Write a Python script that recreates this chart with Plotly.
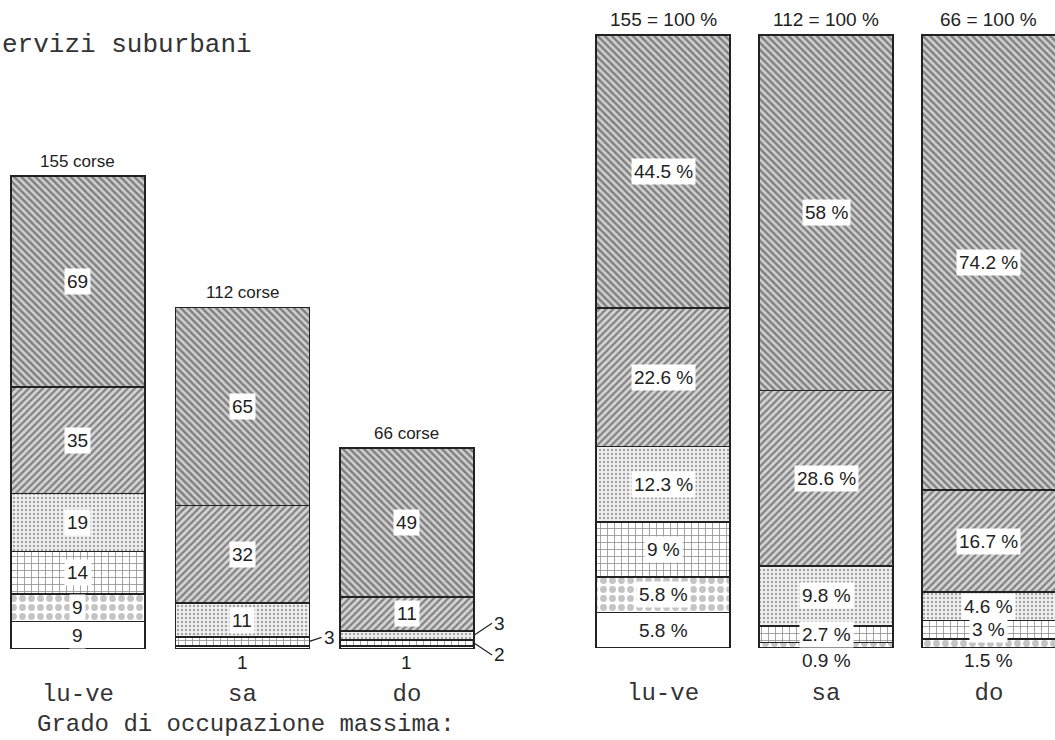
import plotly.graph_objects as go

# ---------------- data ----------------
days = ["lu-ve", "sa", "do"]

# number of runs (corse) per occupancy class, stacked bottom -> top
corse_bianco = [9, 0, 0]
corse_cerchi = [9, 1, 1]
corse_griglia = [14, 3, 2]
corse_punti = [19, 11, 3]
corse_obliquo = [35, 32, 11]
corse_tratteggio = [69, 65, 49]

# the same, as percentages of each day's total
pct_bianco = [5.8, 0, 0]
pct_cerchi = [5.8, 0.9, 1.5]
pct_griglia = [9, 2.7, 3]
pct_punti = [12.3, 9.8, 4.6]
pct_obliquo = [22.6, 28.6, 16.7]
pct_tratteggio = [44.5, 58, 74.2]

title_text = "ervizi suburbani"
footer_text = "Grado di occupazione massima:"

# ---------------- styles ----------------
W, H = 1055, 740
INK = "#222222"
styles = [
    dict(color="white", pattern=None),
    dict(color="white", pattern=dict(shape=".", size=9, solidity=0.45, fgcolor="#8a8a8a", bgcolor="white")),
    dict(color="white", pattern=dict(shape="+", size=7, solidity=0.22, fgcolor="#222222", bgcolor="white")),
    dict(color="#f1f1f1", pattern=dict(shape=".", size=4, solidity=0.3, fgcolor="#555555", bgcolor="#f1f1f1")),
    dict(color="#d4d4d4", pattern=dict(shape="/", size=5, solidity=0.45, fgcolor="#2e2e2e", bgcolor="#d4d4d4")),
    dict(color="#d0d0d0", pattern=dict(shape="\\", size=5, solidity=0.48, fgcolor="#2e2e2e", bgcolor="#d0d0d0")),
]

corse = [corse_bianco, corse_cerchi, corse_griglia, corse_punti, corse_obliquo, corse_tratteggio]
pcts = [pct_bianco, pct_cerchi, pct_griglia, pct_punti, pct_obliquo, pct_tratteggio]

fig = go.Figure()
BW_L, BW_R = 0.815, 0.82

for vals, st in zip(corse, styles):
    marker = dict(color=st["color"], line=dict(color=INK, width=1.6))
    if st["pattern"]:
        marker["pattern"] = st["pattern"]
    fig.add_trace(go.Bar(x=days, y=vals, width=BW_L, marker=marker,
                         xaxis="x", yaxis="y", showlegend=False, hoverinfo="skip"))
for vals, st in zip(pcts, styles):
    marker = dict(color=st["color"], line=dict(color=INK, width=1.6))
    if st["pattern"]:
        marker["pattern"] = st["pattern"]
    fig.add_trace(go.Bar(x=days, y=vals, width=BW_R, marker=marker,
                         xaxis="x2", yaxis="y2", showlegend=False, hoverinfo="skip"))

LABEL_FONT = dict(family="Liberation Sans, Arial, sans-serif", size=19, color=INK)
ann = []


def seg_labels(series, xref, yref, fmt, small, bw, below_shift, side_ax):
    for i, d in enumerate(days):
        base = 0.0
        first_nonzero = True
        side = []
        for vals in series:
            v = vals[i]
            if v <= 0:
                continue
            mid = base + v / 2.0
            txt = fmt(v)
            if v < small and first_nonzero:
                ann.append(dict(x=i, y=0, xref=xref, yref=yref, text=txt, showarrow=False,
                                yanchor="top", yshift=below_shift, font=LABEL_FONT,
                                bgcolor="white", borderpad=0))
            elif v < small:
                side.append((mid, txt))
            else:
                ann.append(dict(x=i, y=mid, xref=xref, yref=yref, text=txt, showarrow=False,
                                font=LABEL_FONT, bgcolor="white", borderpad=2))
            base += v
            first_nonzero = False
        # side labels with leader lines, spread apart vertically
        if len(side) == 1:
            offsets = [-4]
        else:
            offsets = [12 - 24 * k / max(len(side) - 1, 1) for k in range(len(side))]
        for (mid, txt), ay in zip(side, offsets):
            ann.append(dict(x=i + bw / 2, y=mid, xref=xref, yref=yref, text=txt,
                            showarrow=True, arrowhead=0, arrowwidth=1.2, arrowcolor=INK,
                            ax=side_ax[i], ay=ay, xanchor="left", font=LABEL_FONT, standoff=0))


seg_labels(corse, "x", "y", lambda v: f"{v:g}", 4, BW_L, -2, [20, 12, 18])
seg_labels(pcts, "x2", "y2", lambda v: f"{v:g} %", 2, BW_R, -1, [20, 20, 20])

# totals above the bars
for i, d in enumerate(days):
    tot = sum(s[i] for s in corse)
    ann.append(dict(x=i, y=tot, xref="x", yref="y", text=f"{tot} corse", showarrow=False,
                    yanchor="bottom", yshift=3,
                    font=dict(family="Liberation Sans, Arial, sans-serif", size=17, color=INK)))
    ptot = sum(s[i] for s in pcts)
    ann.append(dict(x=i, y=ptot, xref="x2", yref="y2", text=f"{tot} = {ptot:.0f} %", showarrow=False,
                    yanchor="bottom", yshift=3,
                    font=dict(family="Liberation Sans, Arial, sans-serif", size=19, color=INK)))

MONO_T = dict(family="Liberation Mono, Courier New, monospace", size=26, color="#333333")
MONO = dict(family="Liberation Mono, Courier New, monospace", size=24, color="#333333")
ann.append(dict(x=0, y=1 - 45 / H, xref="paper", yref="paper", text=title_text, showarrow=False,
                xanchor="left", yanchor="middle", font=MONO_T))
ann.append(dict(x=35 / W, y=1 - 724 / H, xref="paper", yref="paper", text=footer_text, showarrow=False,
                xanchor="left", yanchor="middle", font=MONO))

axis_common = dict(showgrid=False, zeroline=False, showline=False, ticks="",
                   tickfont=MONO, type="category", categoryorder="array", categoryarray=days,
                   ticklabelstandoff=27)
yaxis_common = dict(showgrid=False, zeroline=False, showline=False, showticklabels=False, ticks="")

fig.update_layout(
    width=W, height=H, autosize=False,
    margin=dict(l=0, r=0, t=0, b=0),
    paper_bgcolor="white", plot_bgcolor="white",
    barmode="stack",
    xaxis=dict(domain=[0, 480 / W], range=[-0.474, 2.444], anchor="y", **axis_common),
    yaxis=dict(domain=[1 - 649 / H, 1], range=[0, 649 / 3.05], anchor="x", **yaxis_common),
    xaxis2=dict(domain=[590 / W, 1], range=[-0.448, 2.405], anchor="y2", **axis_common),
    yaxis2=dict(domain=[1 - 648 / H, 1], range=[0, 648 / 6.13], anchor="x2", **yaxis_common),
    annotations=ann,
)

fig.write_html("out.html", config={"displayModeBar": False},
               post_script="document.body.style.margin='0';document.body.style.overflow='hidden';")
